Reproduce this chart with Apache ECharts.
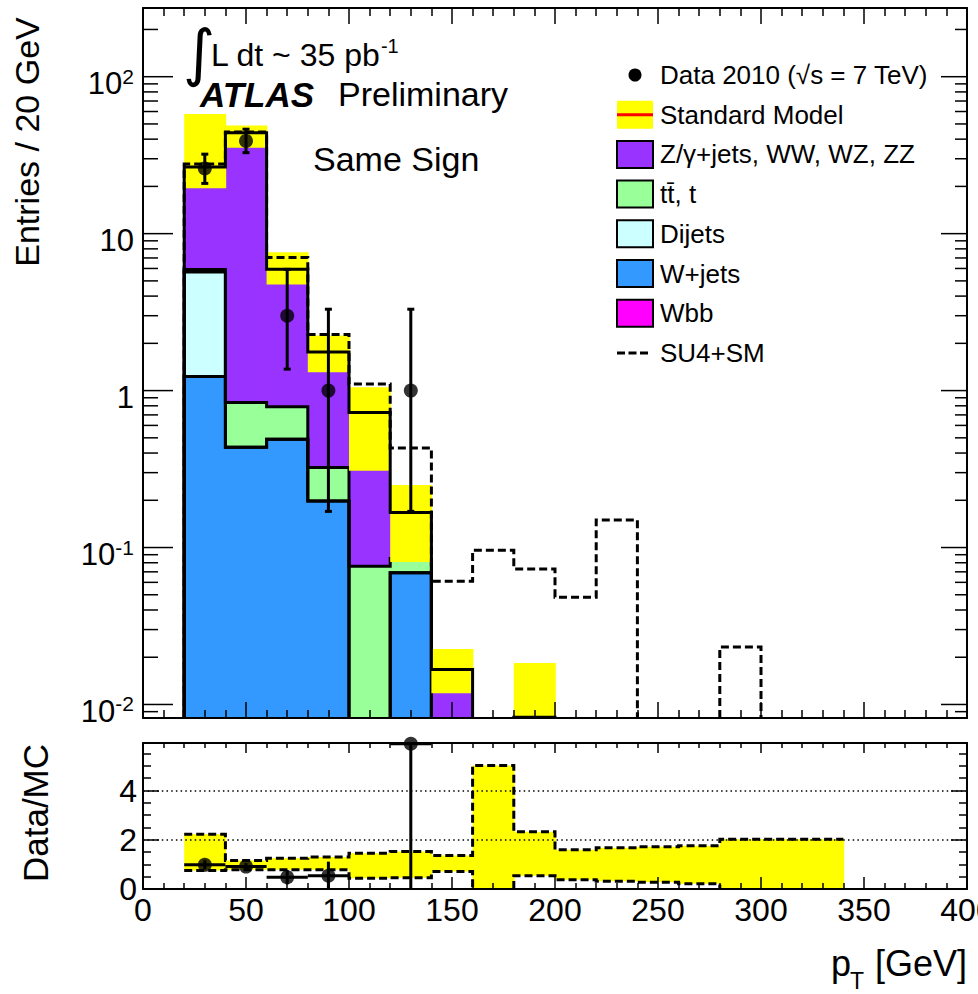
<!DOCTYPE html>
<html>
<head>
<meta charset="utf-8">
<title>Same Sign lepton pT</title>
<script src="https://cdn.jsdelivr.net/npm/echarts@6.0.0/dist/echarts.min.js"></script>
<style>
  html, body { margin: 0; padding: 0; background: #ffffff; }
  #chart { width: 978px; height: 994px; }
</style>
</head>
<body>
<div id="chart"></div>
<script>
const FONT = '"Liberation Sans", Arial, Helvetica, sans-serif';
const PURPLE = '#9933ff', GREEN = '#99ff99', CYAN = '#ccffff', BLUE = '#3399ff',
      MAGENTA = '#ff00ff', YELLOW = '#ffff00', RED = '#ff0000';

// 20 GeV bins from 0 to 400 GeV
const binEdges = [0, 20, 40, 60, 80, 100, 120, 140, 160, 180, 200, 220, 240, 260, 280, 300, 320, 340, 360, 380, 400];

// expected entries per bin, by process
const wbb      = [0, 0, 0, 0, 0, 0, 0, 0, 0, 0, 0, 0, 0, 0, 0, 0, 0, 0, 0, 0];
const wJets    = [0, 1.23, 0.435, 0.49, 0.198, 0, 0.069, 0, 0, 0, 0, 0, 0, 0, 0, 0, 0, 0, 0, 0];
const dijets   = [0, 4.47, 0, 0, 0, 0, 0, 0, 0, 0, 0, 0, 0, 0, 0, 0, 0, 0, 0, 0];
const ttbar    = [0, 0.20, 0.405, 0.30, 0.126, 0.076, 0.016, 0, 0, 0, 0, 0, 0, 0, 0, 0, 0, 0, 0, 0];
const zDiboson = [0, 20.7, 43.06, 5.14, 1.436, 0.65, 0.082, 0.0167, 0, 0.0083, 0, 0, 0, 0, 0, 0, 0, 0, 0, 0];

// Standard Model uncertainty band (absolute)
const smBandLow  = [null, 19.5, 35.3, 4.75, 1.31, 0.308, 0.081, 0.0118, null, 0, null, null, null, null, null, null, null, null, null, null];
const smBandHigh = [null, 57.8, 48.9, 7.6, 2.24, 1.05, 0.25, 0.0226, null, 0.0184, null, null, null, null, null, null, null, null, null, null];

// SU4 signal + Standard Model
const su4PlusSM = [0, 27.8, 44.5, 7.05, 2.28, 1.10, 0.43, 0.061, 0.096, 0.073, 0.0483, 0.150, 0, 0, 0.0232, 0, 0, 0, 0, 0];

// observed events with Poisson errors
const dataCounts  = [0, 26, 39, 3, 1, 0, 1, 0, 0, 0, 0, 0, 0, 0, 0, 0, 0, 0, 0, 0];
const dataErrDown = [0, 5.1, 6.2, 1.63, 0.83, 0, 0.83, 0, 0, 0, 0, 0, 0, 0, 0, 0, 0, 0, 0, 0];
const dataErrUp   = [0, 6.1, 7.3, 2.92, 2.30, 0, 2.30, 0, 0, 0, 0, 0, 0, 0, 0, 0, 0, 0, 0, 0];

// Data/MC panel
const ratioValues   = [null, 0.98, 0.91, 0.48, 0.54, null, 5.9, null, null, null, null, null, null, null, null, null, null, null, null, null];
const ratioErrors   = [null, 0.19, 0.14, 0.29, 0.57, null, 5.9, null, null, null, null, null, null, null, null, null, null, null, null, null];
const ratioBandLow  = [null, 0.75, 0.78, 0.78, 0.78, 0.44, 0.46, 0.71, 0, 0.54, 0.38, 0.31, 0.27, 0.21, 0, 0, 0, null, null, null];
const ratioBandHigh = [null, 2.22, 1.16, 1.25, 1.30, 1.45, 1.52, 1.36, 5.02, 2.33, 1.59, 1.68, 1.72, 1.76, 2.02, 2.02, 2.02, null, null, null];

// axis ticks and labels
const yMajorTicks  = [0.01, 0.1, 1, 10, 100];
const yMajorLabels = ['10^-2', '10^-1', '1', '10', '10^2'];
const ratioTickLabels = [0, 2, 4];
const Y_MIN = 0.0082, Y_MAX = 274, RATIO_MAX = 5.93;

const yMinorTicks = [];
for (let e = -3; e <= 2; e++) {
  for (let m = 2; m <= 9; m++) {
    const v = m * Math.pow(10, e);
    if (v >= Y_MIN && v <= Y_MAX) yMinorTicks.push(v);
  }
}

// stacked processes, bottom to top
const stackOrder = [
  { name: 'Wbb', values: wbb, color: MAGENTA },
  { name: 'W+jets', values: wJets, color: BLUE },
  { name: 'Dijets', values: dijets, color: CYAN },
  { name: 't\u0074\u0304, t', values: ttbar, color: GREEN },
  { name: 'Z/\u03b3+jets, WW, WZ, ZZ', values: zDiboson, color: PURPLE }
];
let running = dataCounts.map(() => 0);
const layers = stackOrder.map(p => {
  const lo = running.slice();
  running = running.map((v, i) => v + p.values[i]);
  return Object.assign({}, p, { lo: lo, hi: running.slice() });
});
const smTotal = layers[layers.length - 1].hi;

// ---------- drawing helpers ----------
function axesOf(panel) {
  return panel === 'main' ? { xAxisIndex: 0, yAxisIndex: 0 } : { xAxisIndex: 2, yAxisIndex: 2 };
}
function makeScales(api, cs, panel) {
  const isLog = panel === 'main';
  const base = cs.y + cs.height;
  const X = x => api.coord([x, isLog ? 1 : 0])[0];
  const Y = v => {
    if (v == null || (isLog && !(v > 0))) return base;
    const y = api.coord([0, v])[1];
    return Math.max(cs.y, Math.min(base, y));
  };
  return { X: X, Y: Y, base: base };
}
function splitAlongBase(pts, base) {
  const runs = [];
  let cur = [];
  for (let i = 0; i < pts.length; i++) {
    if (i > 0 && pts[i - 1][1] >= base - 0.01 && pts[i][1] >= base - 0.01) {
      if (cur.length > 1) runs.push(cur);
      cur = [pts[i]];
      continue;
    }
    cur.push(pts[i]);
  }
  if (cur.length > 1) runs.push(cur);
  return runs;
}

// one filled rectangle per bin, from a lower to an upper value
function binFill(name, lows, highs, color, z, panel) {
  const data = [];
  highs.forEach((h, i) => {
    const l = lows[i] || 0;
    if (h != null && h > l) data.push([binEdges[i], binEdges[i + 1], l, h]);
  });
  return Object.assign({
    type: 'custom', name: name, z: z, silent: true, data: data,
    renderItem(params, api) {
      const s = makeScales(api, params.coordSys, panel);
      const x0 = s.X(api.value(0)), x1 = s.X(api.value(1));
      const yt = s.Y(api.value(3)), yb = s.Y(api.value(2));
      return {
        type: 'rect',
        shape: { x: x0, y: yt, width: x1 - x0 + 0.8, height: yb - yt },
        style: { fill: color }
      };
    }
  }, axesOf(panel));
}

// histogram outline drawn as a step line
function stepLine(name, values, style, z, panel, outerVerticals) {
  return Object.assign({
    type: 'custom', name: name, z: z, silent: true,
    data: [[binEdges[0], panel === 'main' ? 1 : 0]],
    renderItem(params, api) {
      const s = makeScales(api, params.coordSys, panel);
      let first = -1, last = -1;
      values.forEach((v, i) => { if (v != null) { if (first < 0) first = i; last = i; } });
      const pts = [];
      if (outerVerticals) pts.push([s.X(binEdges[first]), s.base]);
      for (let i = first; i <= last; i++) {
        const y = s.Y(values[i]);
        pts.push([s.X(binEdges[i]), y], [s.X(binEdges[i + 1]), y]);
      }
      if (outerVerticals) pts.push([s.X(binEdges[last + 1]), s.base]);
      const runs = splitAlongBase(pts, s.base);
      return {
        type: 'group',
        children: runs.map(r => ({
          type: 'polyline', shape: { points: r },
          style: Object.assign({ fill: null, lineJoin: 'miter', lineCap: 'butt' }, style)
        }))
      };
    }
  }, axesOf(panel));
}

const series = [];

// stacked process fills
layers.forEach(layer => series.push(binFill(layer.name, layer.lo, layer.hi, layer.color, 2, 'main')));
// outlines of the lower stack levels
const SOLID = { stroke: '#000', lineWidth: 3 };
layers.slice(0, layers.length - 1).forEach(layer => {
  if (layer.values.some(v => v > 0)) series.push(stepLine(layer.name + ' outline', layer.hi, SOLID, 3, 'main', true));
});
// SM uncertainty band and total
series.push(binFill('Standard Model', smBandLow, smBandHigh, YELLOW, 4, 'main'));
series.push(stepLine('Standard Model total', smTotal, SOLID, 5, 'main', true));
// SU4 + SM
series.push(stepLine('SU4+SM', su4PlusSM, { stroke: '#000', lineWidth: 3, lineDash: [8, 4] }, 6, 'main', true));

// data error bars and markers
const dataPoints = [];
dataCounts.forEach((n, i) => {
  if (n > 0) dataPoints.push([(binEdges[i] + binEdges[i + 1]) / 2, n, n - dataErrDown[i], n + dataErrUp[i]]);
});
series.push(Object.assign({
  type: 'custom', name: 'Data errors', z: 7, silent: true, data: dataPoints,
  renderItem(params, api) {
    const s = makeScales(api, params.coordSys, 'main');
    const x = s.X(api.value(0));
    const yLo = s.Y(api.value(2)), yHi = s.Y(api.value(3));
    const st = { stroke: '#000', lineWidth: 3 };
    return {
      type: 'group', children: [
        { type: 'line', shape: { x1: x, y1: yHi, x2: x, y2: yLo }, style: st },
        { type: 'line', shape: { x1: x - 3.5, y1: yHi, x2: x + 3.5, y2: yHi }, style: st },
        { type: 'line', shape: { x1: x - 3.5, y1: yLo, x2: x + 3.5, y2: yLo }, style: st }
      ]
    };
  }
}, axesOf('main')));
series.push({
  type: 'scatter', name: 'Data 2010', xAxisIndex: 0, yAxisIndex: 0, z: 8, silent: true,
  symbol: 'circle', symbolSize: 14, itemStyle: { color: '#000' },
  data: dataPoints.map(p => [p[0], p[1]])
});

// log-axis ticks on both sides of the main frame
const yTickData = yMajorTicks.map(v => [0, v, 1]).concat(yMinorTicks.map(v => [0, v, 0]));
series.push({
  type: 'custom', name: 'y ticks', xAxisIndex: 0, yAxisIndex: 0, z: 11, silent: true, data: yTickData,
  renderItem(params, api) {
    const cs = params.coordSys;
    const y = api.coord([0, api.value(1)])[1];
    const major = api.value(2) === 1;
    const lL = major ? 30 : 15, lR = major ? 26 : 12;
    const st = { stroke: '#000', lineWidth: 1.5 };
    return {
      type: 'group', children: [
        { type: 'line', shape: { x1: cs.x, y1: y, x2: cs.x + lL, y2: y }, style: st },
        { type: 'line', shape: { x1: cs.x + cs.width, y1: y, x2: cs.x + cs.width - lR, y2: y }, style: st }
      ]
    };
  }
});
// log-axis labels (10^n)
series.push({
  type: 'custom', name: 'y labels', xAxisIndex: 0, yAxisIndex: 0, z: 11, silent: true,
  data: yMajorTicks.map(v => [0, v]),
  renderItem(params, api) {
    const cs = params.coordSys;
    const y = api.coord([0, api.value(1)])[1];
    const parts = yMajorLabels[params.dataIndex].split('^');
    const text = '{b|' + parts[0] + '}' + (parts[1] ? '{s|' + parts[1] + '}' : '');
    return {
      type: 'text', x: cs.x - 9, y: y + 4.5,
      style: {
        text: text, align: 'right', verticalAlign: 'middle', fill: '#000',
        rich: {
          b: { fontSize: 31, fontFamily: FONT, lineHeight: 31, padding: [5, 0, 0, 0], fill: '#000' },
          s: { fontSize: 21, fontFamily: FONT, lineHeight: 21, verticalAlign: 'top', fill: '#000' }
        }
      }
    };
  }
});

// ratio panel
series.push(binFill('SM uncertainty ratio', ratioBandLow, ratioBandHigh, YELLOW, 2, 'ratio'));
const DASH = { stroke: '#000', lineWidth: 3, lineDash: [8, 4] };
series.push(stepLine('SM uncertainty up', ratioBandHigh, DASH, 3, 'ratio', false));
series.push(stepLine('SM uncertainty down', ratioBandLow, DASH, 3, 'ratio', false));
const ratioPoints = [];
ratioValues.forEach((r, i) => {
  if (r != null) ratioPoints.push([(binEdges[i] + binEdges[i + 1]) / 2, r, ratioErrors[i], binEdges[i], binEdges[i + 1]]);
});
series.push(Object.assign({
  type: 'custom', name: 'Data/MC errors', z: 7, silent: true, data: ratioPoints,
  renderItem(params, api) {
    const s = makeScales(api, params.coordSys, 'ratio');
    const r = api.value(1), e = api.value(2);
    const x = s.X(api.value(0)), x0 = s.X(api.value(3)), x1 = s.X(api.value(4));
    const y = s.Y(r), yLo = s.Y(Math.max(0, r - e)), yHi = s.Y(Math.min(RATIO_MAX, r + e));
    const st = { stroke: '#000', lineWidth: 3 };
    return {
      type: 'group', children: [
        { type: 'line', shape: { x1: x0, y1: y, x2: x1, y2: y }, style: st },
        { type: 'line', shape: { x1: x, y1: yHi, x2: x, y2: yLo }, style: st }
      ]
    };
  }
}, axesOf('ratio')));
series.push({
  type: 'scatter', name: 'Data/MC', xAxisIndex: 2, yAxisIndex: 2, z: 8, silent: true, clip: false,
  symbol: 'circle', symbolSize: 14, itemStyle: { color: '#000' },
  data: ratioPoints.map(p => [p[0], p[1]])
});

// ---------- axes ----------
function xAx(grid, pos, labels, majLen, minLen) {
  return {
    gridIndex: grid, type: 'value', position: pos, min: 0, max: 400, interval: 50, z: 10,
    axisLine: { show: true, onZero: false, lineStyle: { color: '#000', width: 2 } },
    axisTick: { show: true, inside: true, length: majLen, lineStyle: { color: '#000', width: 1.5 } },
    minorTick: { show: true, splitNumber: 5, length: minLen, lineStyle: { color: '#000', width: 1.5 } },
    splitLine: { show: false }, minorSplitLine: { show: false },
    axisLabel: labels
      ? { show: true, color: '#000', fontSize: 32, fontFamily: FONT, margin: 5 }
      : { show: false }
  };
}
function yLogAx(pos) {
  return {
    gridIndex: 0, type: 'log', logBase: 10, min: Y_MIN, max: Y_MAX, position: pos, z: 10,
    axisLine: { show: true, onZero: false, lineStyle: { color: '#000', width: 2 } },
    axisTick: { show: false }, minorTick: { show: false },
    axisLabel: { show: false }, splitLine: { show: false }, minorSplitLine: { show: false }
  };
}
function yRatioAx(pos, labels) {
  return {
    gridIndex: 1, type: 'value', min: 0, max: RATIO_MAX, interval: 2, position: pos, z: 10,
    axisLine: { show: true, onZero: false, lineStyle: { color: '#000', width: 2 } },
    axisTick: { show: true, inside: true, length: 16, lineStyle: { color: '#000', width: 1.5 } },
    minorTick: { show: true, splitNumber: 4, length: 8, lineStyle: { color: '#000', width: 1.5 } },
    splitLine: labels
      ? { show: true, lineStyle: { color: '#000', width: 1.5, type: [1.5, 3.2] } }
      : { show: false },
    minorSplitLine: { show: false },
    axisLabel: labels
      ? {
          show: true, color: '#000', fontSize: 32, fontFamily: FONT, margin: 6,
          formatter: v => (ratioTickLabels.indexOf(v) >= 0 ? String(v) : '')
        }
      : { show: false }
  };
}

// ---------- text and legend ----------
const graphic = [];
function txt(x, y, text, size, extra) {
  graphic.push({
    type: 'text', x: x, y: y, z: 100, silent: true,
    style: Object.assign({ text: text, fontSize: size, fontFamily: FONT, fill: '#000', align: 'left', verticalAlign: 'middle' }, extra || {})
  });
}
// axis titles
graphic.push({ type: 'text', x: 27, y: 142, rotation: Math.PI / 2, z: 100, silent: true,
  style: { text: 'Entries / 20 GeV', fontSize: 34, fontFamily: FONT, fill: '#000', align: 'center', verticalAlign: 'middle' } });
graphic.push({ type: 'text', x: 35, y: 813, rotation: Math.PI / 2, z: 100, silent: true,
  style: { text: 'Data/MC', fontSize: 35, fontFamily: FONT, fill: '#000', align: 'center', verticalAlign: 'middle' } });
txt(967, 963, '[GeV]', 36, { align: 'right' });
txt(831, 963, 'p', 36);
txt(850, 981, 'T', 23);

// luminosity and experiment labels
txt(199, 52, '\u222b', 62, { align: 'center', fontFamily: '"DejaVu Sans", sans-serif' });
graphic.push({
  type: 'text', x: 211, y: 52, z: 100, silent: true,
  style: {
    text: '{b|L dt ~ 35 pb}{s|-1}', align: 'left', verticalAlign: 'middle', fill: '#000',
    rich: {
      b: { fontSize: 32, fontFamily: FONT, lineHeight: 32, padding: [5, 0, 0, 0], fill: '#000' },
      s: { fontSize: 20, fontFamily: FONT, lineHeight: 20, verticalAlign: 'top', fill: '#000' }
    }
  }
});
txt(200, 94, 'ATLAS', 35, { fontWeight: 'bold', fontStyle: 'italic' });
txt(338, 94, 'Preliminary', 34);
txt(313, 159, 'Same Sign', 34);

// legend
const legendEntries = [
  { label: 'Data 2010 (\u221as = 7 TeV)', kind: 'marker' },
  { label: 'Standard Model', kind: 'band' },
  { label: stackOrder[4].name, kind: 'box', color: stackOrder[4].color },
  { label: stackOrder[3].name, kind: 'box', color: stackOrder[3].color },
  { label: stackOrder[2].name, kind: 'box', color: stackOrder[2].color },
  { label: stackOrder[1].name, kind: 'box', color: stackOrder[1].color },
  { label: stackOrder[0].name, kind: 'box', color: stackOrder[0].color },
  { label: 'SU4+SM', kind: 'dash' }
];
legendEntries.forEach((e, i) => {
  const cy = 75 + i * 39.7;
  if (e.kind === 'marker') {
    graphic.push({ type: 'circle', z: 100, silent: true, shape: { cx: 635, cy: cy, r: 6.5 }, style: { fill: '#000' } });
  } else if (e.kind === 'band') {
    graphic.push({ type: 'rect', z: 100, silent: true, shape: { x: 617, y: cy - 14, width: 36, height: 28 }, style: { fill: YELLOW } });
    graphic.push({ type: 'line', z: 101, silent: true, shape: { x1: 617, y1: cy, x2: 653, y2: cy }, style: { stroke: RED, lineWidth: 3 } });
  } else if (e.kind === 'box') {
    graphic.push({ type: 'rect', z: 100, silent: true, shape: { x: 617, y: cy - 13.5, width: 36, height: 27 }, style: { fill: e.color, stroke: '#000', lineWidth: 2 } });
  } else {
    graphic.push({ type: 'line', z: 100, silent: true, shape: { x1: 617, y1: cy, x2: 648, y2: cy }, style: { stroke: '#000', lineWidth: 3, lineDash: [8, 3.5] } });
  }
  txt(660, cy, e.label, 26);
});

const chart = echarts.init(document.getElementById('chart'), null, { renderer: 'svg', width: 978, height: 994 });
chart.setOption({
  animation: false,
  backgroundColor: '#ffffff',
  textStyle: { fontFamily: FONT },
  grid: [
    { left: 143, top: 8, width: 824, height: 710, outerBoundsMode: 'none' },
    { left: 143, top: 743, width: 824, height: 146, outerBoundsMode: 'none' }
  ],
  xAxis: [
    xAx(0, 'bottom', false, 16, 8),
    xAx(0, 'top', false, 16, 8),
    xAx(1, 'bottom', true, 12, 6),
    xAx(1, 'top', false, 10, 5)
  ],
  yAxis: [yLogAx('left'), yLogAx('right'), yRatioAx('left', true), yRatioAx('right', false)],
  series: series,
  graphic: graphic
});
</script>
</body>
</html>
